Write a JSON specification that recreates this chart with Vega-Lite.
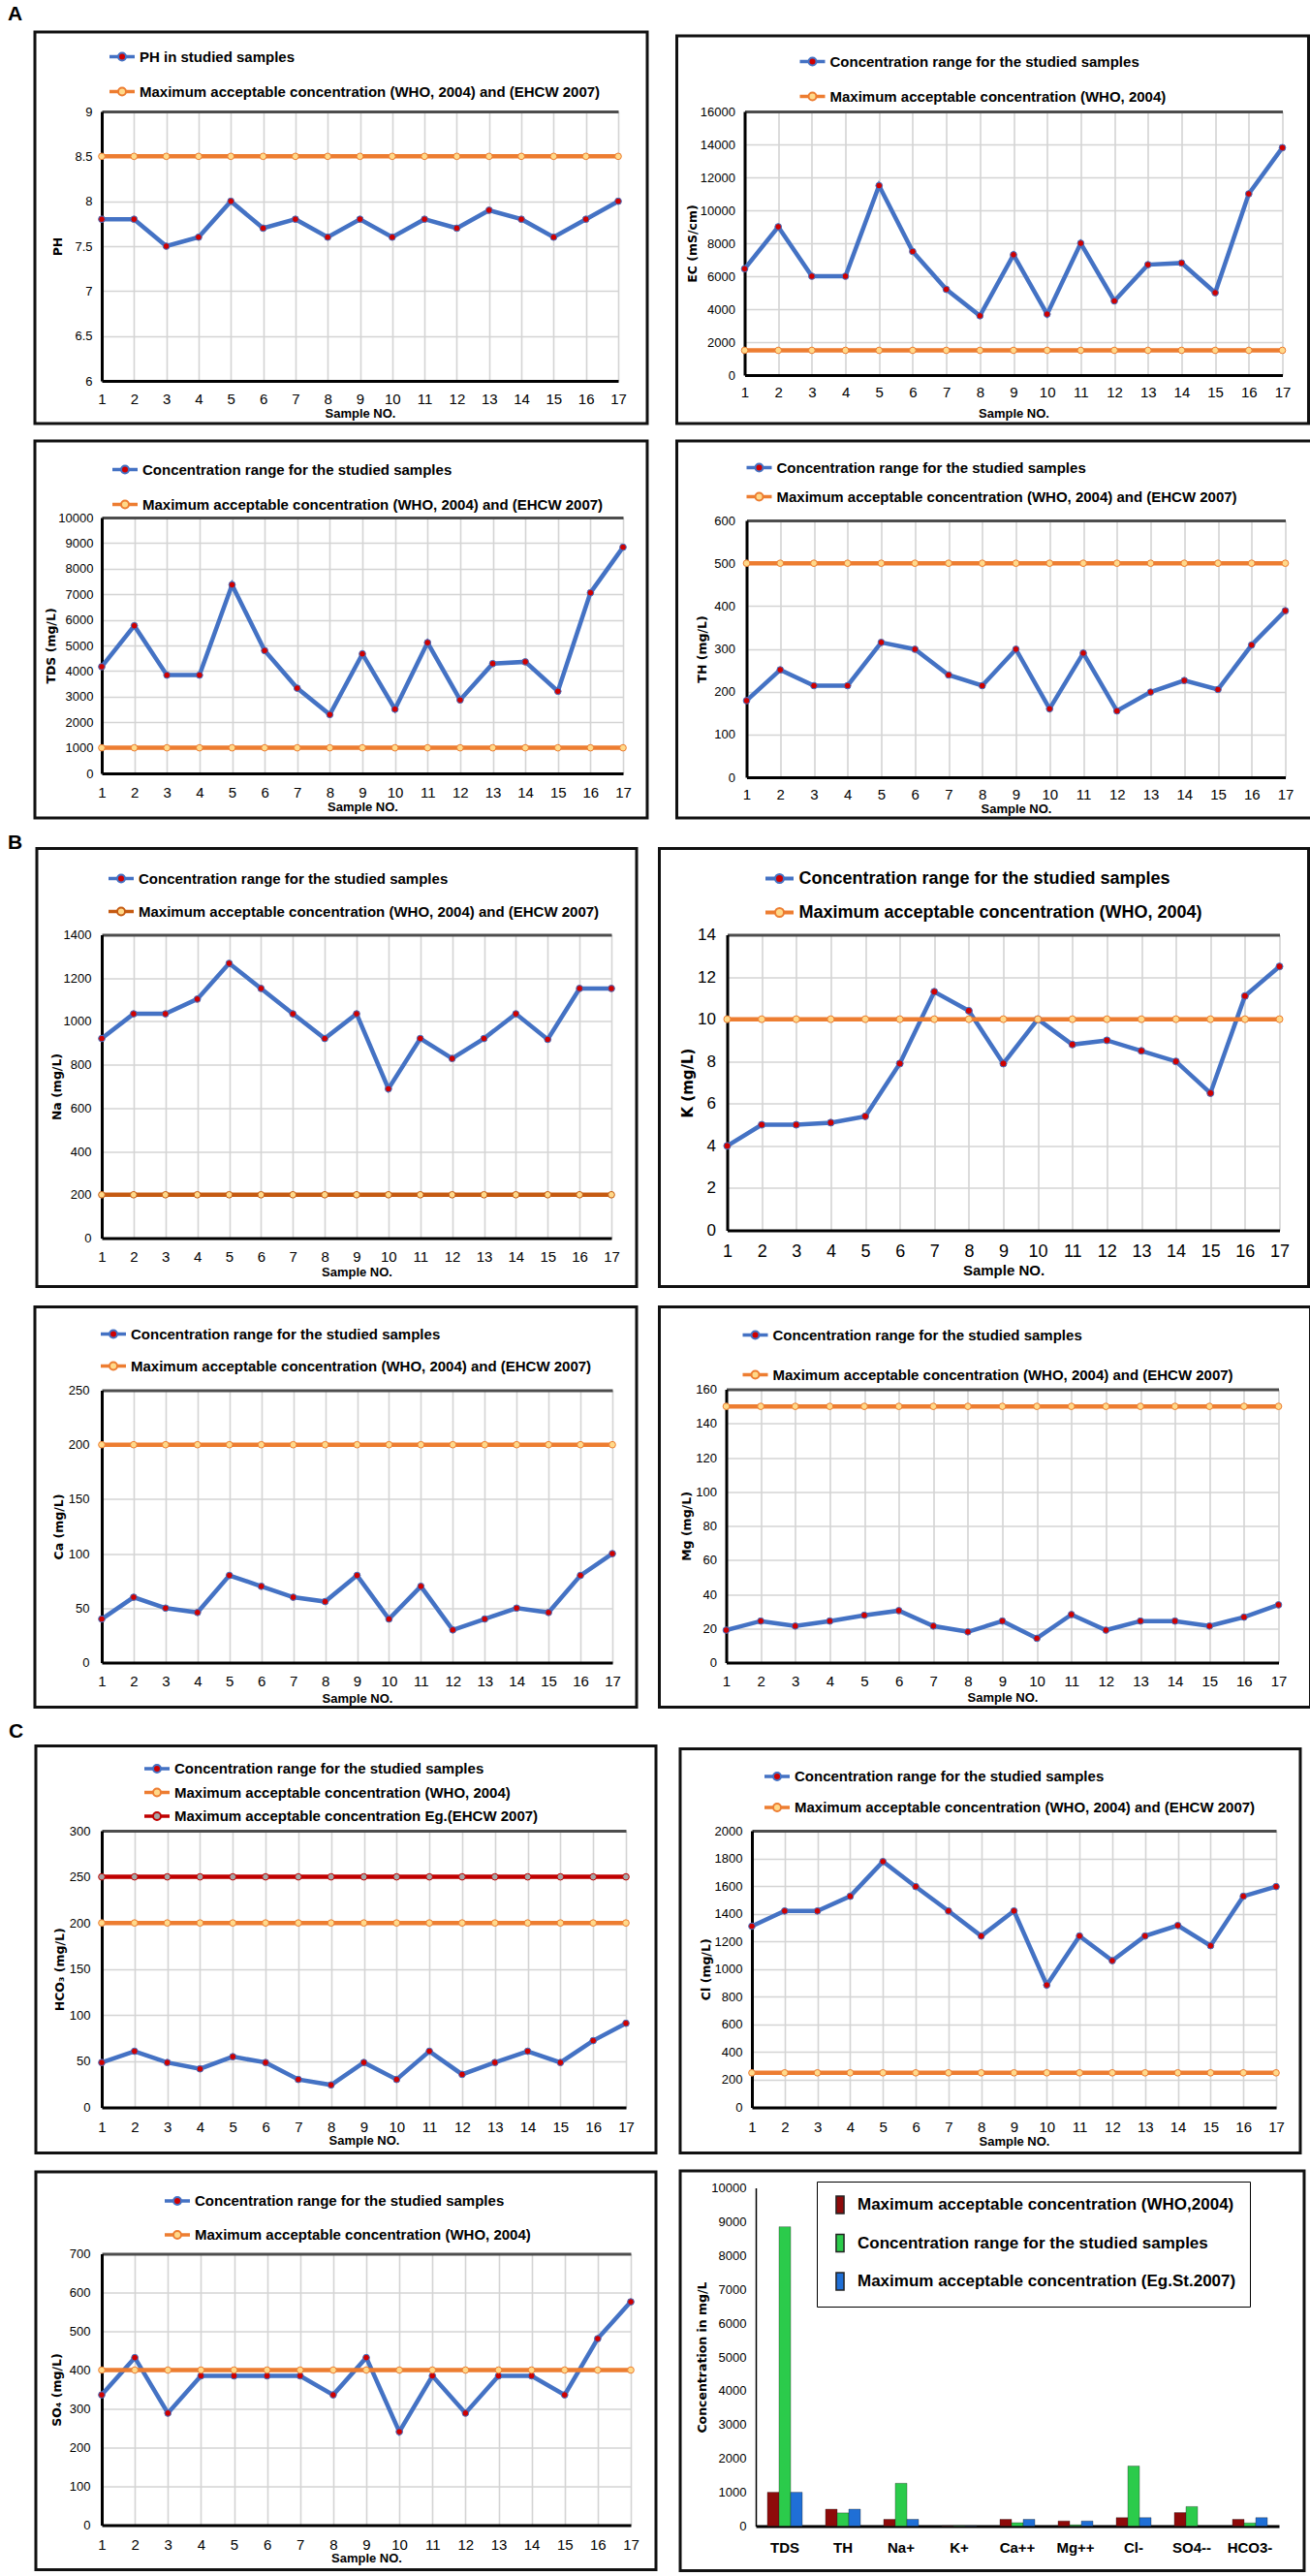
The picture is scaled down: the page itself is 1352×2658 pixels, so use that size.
{
"$schema": "https://vega.github.io/schema/vega-lite/v6.json",
"background": "white",
"padding": {"left": 7, "top": 4, "right": 0, "bottom": 0},
"config": {
  "view": {"stroke": null},
  "font": "Liberation Sans",
  "axis": {"grid": true, "ticks": false, "tickSize": 0, "labelOverlap": false, "labelFont": "Liberation Sans", "labelFontSize": 13, "labelColor": "#000", "titleFont": "DejaVu Sans", "titleFontSize": 12.5, "titleFontWeight": "bold", "titleColor": "#000", "gridColor": "#d4d4d4", "gridWidth": 1.6, "domainColor": "#000", "domainWidth": 3},
  "axisX": {"labelFontSize": 15, "titleFont": "Liberation Sans", "titleFontSize": 13, "labelAngle": 0, "labelFlush": false},
  "legend": {"labelFont": "Liberation Sans", "labelFontWeight": "bold", "labelFontSize": 15, "labelColor": "#000", "labelLimit": 1000, "symbolOpacity": 1, "padding": 0, "orient": "none"},
  "title": {"anchor": "start", "frame": "bounds", "font": "Liberation Sans", "fontSize": 21, "fontWeight": "bold", "color": "#000", "dx": -26.5}
},
"datasets": {
"ph": [{"s":1,"a":7.8,"b":8.5},{"s":2,"a":7.8,"b":8.5},{"s":3,"a":7.5,"b":8.5},{"s":4,"a":7.6,"b":8.5},{"s":5,"a":8.0,"b":8.5},{"s":6,"a":7.7,"b":8.5},{"s":7,"a":7.8,"b":8.5},{"s":8,"a":7.6,"b":8.5},{"s":9,"a":7.8,"b":8.5},{"s":10,"a":7.6,"b":8.5},{"s":11,"a":7.8,"b":8.5},{"s":12,"a":7.7,"b":8.5},{"s":13,"a":7.9,"b":8.5},{"s":14,"a":7.8,"b":8.5},{"s":15,"a":7.6,"b":8.5},{"s":16,"a":7.8,"b":8.5},{"s":17,"a":8.0,"b":8.5}],
"ec": [{"s":1,"a":6450,"b":1500},{"s":2,"a":9000,"b":1500},{"s":3,"a":6000,"b":1500},{"s":4,"a":6000,"b":1500},{"s":5,"a":11500,"b":1500},{"s":6,"a":7500,"b":1500},{"s":7,"a":5200,"b":1500},{"s":8,"a":3600,"b":1500},{"s":9,"a":7300,"b":1500},{"s":10,"a":3700,"b":1500},{"s":11,"a":8000,"b":1500},{"s":12,"a":4500,"b":1500},{"s":13,"a":6700,"b":1500},{"s":14,"a":6800,"b":1500},{"s":15,"a":5000,"b":1500},{"s":16,"a":11000,"b":1500},{"s":17,"a":13800,"b":1500}],
"tds": [{"s":1,"a":4170,"b":1000},{"s":2,"a":5770,"b":1000},{"s":3,"a":3840,"b":1000},{"s":4,"a":3840,"b":1000},{"s":5,"a":7370,"b":1000},{"s":6,"a":4800,"b":1000},{"s":7,"a":3330,"b":1000},{"s":8,"a":2300,"b":1000},{"s":9,"a":4670,"b":1000},{"s":10,"a":2510,"b":1000},{"s":11,"a":5110,"b":1000},{"s":12,"a":2870,"b":1000},{"s":13,"a":4290,"b":1000},{"s":14,"a":4360,"b":1000},{"s":15,"a":3210,"b":1000},{"s":16,"a":7060,"b":1000},{"s":17,"a":8840,"b":1000}],
"th": [{"s":1,"a":179,"b":500},{"s":2,"a":251,"b":500},{"s":3,"a":214,"b":500},{"s":4,"a":214,"b":500},{"s":5,"a":315,"b":500},{"s":6,"a":299,"b":500},{"s":7,"a":239,"b":500},{"s":8,"a":214,"b":500},{"s":9,"a":299,"b":500},{"s":10,"a":160,"b":500},{"s":11,"a":290,"b":500},{"s":12,"a":155,"b":500},{"s":13,"a":199,"b":500},{"s":14,"a":226,"b":500},{"s":15,"a":205,"b":500},{"s":16,"a":309,"b":500},{"s":17,"a":389,"b":500}],
"na": [{"s":1,"a":921,"b":200},{"s":2,"a":1035,"b":200},{"s":3,"a":1035,"b":200},{"s":4,"a":1103,"b":200},{"s":5,"a":1268,"b":200},{"s":6,"a":1152,"b":200},{"s":7,"a":1035,"b":200},{"s":8,"a":921,"b":200},{"s":9,"a":1035,"b":200},{"s":10,"a":689,"b":200},{"s":11,"a":921,"b":200},{"s":12,"a":829,"b":200},{"s":13,"a":921,"b":200},{"s":14,"a":1035,"b":200},{"s":15,"a":917,"b":200},{"s":16,"a":1152,"b":200},{"s":17,"a":1152,"b":200}],
"k": [{"s":1,"a":4.0,"b":10},{"s":2,"a":5.0,"b":10},{"s":3,"a":5.0,"b":10},{"s":4,"a":5.1,"b":10},{"s":5,"a":5.4,"b":10},{"s":6,"a":7.9,"b":10},{"s":7,"a":11.3,"b":10},{"s":8,"a":10.4,"b":10},{"s":9,"a":7.9,"b":10},{"s":10,"a":10.0,"b":10},{"s":11,"a":8.8,"b":10},{"s":12,"a":9.0,"b":10},{"s":13,"a":8.5,"b":10},{"s":14,"a":8.0,"b":10},{"s":15,"a":6.5,"b":10},{"s":16,"a":11.1,"b":10},{"s":17,"a":12.5,"b":10}],
"ca": [{"s":1,"a":40,"b":200},{"s":2,"a":60,"b":200},{"s":3,"a":50,"b":200},{"s":4,"a":46,"b":200},{"s":5,"a":80,"b":200},{"s":6,"a":70,"b":200},{"s":7,"a":60,"b":200},{"s":8,"a":56,"b":200},{"s":9,"a":80,"b":200},{"s":10,"a":40,"b":200},{"s":11,"a":70,"b":200},{"s":12,"a":30,"b":200},{"s":13,"a":40,"b":200},{"s":14,"a":50,"b":200},{"s":15,"a":46,"b":200},{"s":16,"a":80,"b":200},{"s":17,"a":100,"b":200}],
"mg": [{"s":1,"a":19,"b":150},{"s":2,"a":24.3,"b":150},{"s":3,"a":21.4,"b":150},{"s":4,"a":24.3,"b":150},{"s":5,"a":27.7,"b":150},{"s":6,"a":30.4,"b":150},{"s":7,"a":21.4,"b":150},{"s":8,"a":18,"b":150},{"s":9,"a":24.3,"b":150},{"s":10,"a":14.2,"b":150},{"s":11,"a":28.1,"b":150},{"s":12,"a":19,"b":150},{"s":13,"a":24.3,"b":150},{"s":14,"a":24.3,"b":150},{"s":15,"a":21.4,"b":150},{"s":16,"a":26.6,"b":150},{"s":17,"a":33.8,"b":150}],
"hco3": [{"s":1,"a":48.7,"b":200,"c":250},{"s":2,"a":60.9,"b":200,"c":250},{"s":3,"a":48.7,"b":200,"c":250},{"s":4,"a":41.8,"b":200,"c":250},{"s":5,"a":55,"b":200,"c":250},{"s":6,"a":48.7,"b":200,"c":250},{"s":7,"a":30.3,"b":200,"c":250},{"s":8,"a":24.4,"b":200,"c":250},{"s":9,"a":48.7,"b":200,"c":250},{"s":10,"a":30.3,"b":200,"c":250},{"s":11,"a":60.9,"b":200,"c":250},{"s":12,"a":35.8,"b":200,"c":250},{"s":13,"a":48.7,"b":200,"c":250},{"s":14,"a":60.9,"b":200,"c":250},{"s":15,"a":48.7,"b":200,"c":250},{"s":16,"a":72.4,"b":200,"c":250},{"s":17,"a":91.2,"b":200,"c":250}],
"cl": [{"s":1,"a":1310,"b":250},{"s":2,"a":1420,"b":250},{"s":3,"a":1420,"b":250},{"s":4,"a":1526,"b":250},{"s":5,"a":1777,"b":250},{"s":6,"a":1596,"b":250},{"s":7,"a":1420,"b":250},{"s":8,"a":1239,"b":250},{"s":9,"a":1420,"b":250},{"s":10,"a":885,"b":250},{"s":11,"a":1239,"b":250},{"s":12,"a":1061,"b":250},{"s":13,"a":1239,"b":250},{"s":14,"a":1315,"b":250},{"s":15,"a":1169,"b":250},{"s":16,"a":1526,"b":250},{"s":17,"a":1596,"b":250}],
"so4": [{"s":1,"a":336,"b":400},{"s":2,"a":432,"b":400},{"s":3,"a":289,"b":400},{"s":4,"a":385,"b":400},{"s":5,"a":385,"b":400},{"s":6,"a":385,"b":400},{"s":7,"a":385,"b":400},{"s":8,"a":336,"b":400},{"s":9,"a":432,"b":400},{"s":10,"a":241,"b":400},{"s":11,"a":385,"b":400},{"s":12,"a":289,"b":400},{"s":13,"a":385,"b":400},{"s":14,"a":385,"b":400},{"s":15,"a":336,"b":400},{"s":16,"a":481,"b":400},{"s":17,"a":576,"b":400}],
"bars": [{"p":"TDS","w":1000,"c":8850,"e":1000},{"p":"TH","w":500,"c":390,"e":500},{"p":"Na+","w":200,"c":1265,"e":200},{"p":"K+","w":10,"c":12.5,"e":10},{"p":"Ca++","w":200,"c":100,"e":200},{"p":"Mg++","w":150,"c":34,"e":150},{"p":"Cl-","w":250,"c":1775,"e":250},{"p":"SO4--","w":400,"c":576},{"p":"HCO3-","w":200,"c":92,"e":250}]
},
"spacing": 12.5,
"resolve": {"scale": {"color": "independent", "stroke": "independent", "fill": "independent"}, "legend": {"color": "independent", "stroke": "independent", "fill": "independent"}},
"vconcat": [
{"title": {"text": "A", "offset": 6}, "columns": 2, "align": "none", "spacing": {"row": 14, "column": 26.5},
 "resolve": {"scale": {"color": "independent", "stroke": "independent", "fill": "independent"}, "legend": {"color": "independent", "stroke": "independent", "fill": "independent"}},
 "concat": [
  {"width": 533, "height": 278, "layer": [
   {"data": {"values": [{}]}, "mark": {"type": "rect", "fill": "transparent", "stroke": "#111", "strokeWidth": 3},
    "encoding": {"x": {"datum": -1.071, "type": "quantitative", "scale": {"domain": [1,17], "nice": false, "zero": false}}, "x2": {"datum": 17.901},
     "y": {"datum": 9.885, "type": "quantitative", "scale": {"domain": [6,9], "nice": false, "zero": false}}, "y2": {"datum": 5.525}}},
   {"data": {"name": "ph"}, "transform": [{"fold": ["a","b"], "as": ["k","v"]}],
    "encoding": {
     "x": {"field": "s", "type": "quantitative", "scale": {"domain": [1,17], "nice": false, "zero": false}, "axis": {"title": "Sample NO.", "format": "d", "grid": true, "labelOverlap": false, "tickCount": 50, "values": [1,2,3,4,5,6,7,8,9,10,11,12,13,14,15,16,17], "labelPadding": 11, "titlePadding": 1}},
     "y": {"field": "v", "type": "quantitative", "scale": {"domain": [6,9], "nice": false, "zero": false}, "axis": {"title": "PH", "grid": true, "labelOverlap": false, "tickCount": 50, "values": [6,6.5,7,7.5,8,8.5,9], "format": "~g", "labelPadding": 10, "titlePadding": 10, "gridColor": {"condition": {"test": "datum.value === 9", "value": "#4d4d4d"}, "value": "#d4d4d4"}, "gridWidth": {"condition": {"test": "datum.value === 9", "value": 3}, "value": 1.6}}}},
    "layer": [
     {"mark": {"type": "line", "strokeWidth": 4.5}, "encoding": {"stroke": {"field": "k", "type": "nominal", "scale": {"domain": ["a","b"], "range": ["#4472C4","#ED7D31"]},
       "legend": {"title": null, "orient": "none", "legendX": 12, "legendY": -65.5, "rowPadding": 19, "symbolType": "M-1.5,-0.1H-0.5V0.1H-1.5ZM0.5,-0.1H1.5V0.1H0.5ZM-0.5,0A0.5,0.5,0,1,0,0.5,0A0.5,0.5,0,1,0,-0.5,0Z", "symbolSize": 256, "symbolStrokeWidth": 2, "labelOffset": 9,
        "labelExpr": "datum.label === 'a' ? 'PH in studied samples' : 'Maximum acceptable concentration (WHO, 2004) and (EHCW 2007)'",
        "encode": {"symbols": {"update": {"fill": {"signal": "datum.value === 'a' ? '#D00000' : '#FFD98A'"}, "opacity": {"value": 1}}}}}}}},
     {"mark": {"type": "point", "filled": true, "opacity": 1, "size": 45, "strokeWidth": 1}, "encoding": {"fill": {"field": "k", "type": "nominal", "scale": {"domain": ["a","b"], "range": ["#D00000","#FFD98A"]}, "legend": null}, "stroke": {"field": "k", "type": "nominal"}}}
    ]}
  ]},
  {"width": 555, "height": 272, "layer": [
   {"data": {"values": [{}]}, "mark": {"type": "rect", "fill": "transparent", "stroke": "#111", "strokeWidth": 3},
    "encoding": {"x": {"datum": -1.018, "type": "quantitative", "scale": {"domain": [1,17], "nice": false, "zero": false}}, "x2": {"datum": 17.778},
     "y": {"datum": 20588, "type": "quantitative", "scale": {"domain": [0,16000], "nice": false, "zero": false}}, "y2": {"datum": -2941}}},
   {"data": {"name": "ec"}, "transform": [{"fold": ["a","b"], "as": ["k","v"]}],
    "encoding": {
     "x": {"field": "s", "type": "quantitative", "scale": {"domain": [1,17], "nice": false, "zero": false}, "axis": {"title": "Sample NO.", "format": "d", "grid": true, "labelOverlap": false, "tickCount": 50, "values": [1,2,3,4,5,6,7,8,9,10,11,12,13,14,15,16,17], "labelPadding": 10, "titlePadding": 8}},
     "y": {"field": "v", "type": "quantitative", "scale": {"domain": [0,16000], "nice": false, "zero": false}, "axis": {"title": "EC (mS/cm)", "grid": true, "labelOverlap": false, "tickCount": 50, "values": [0,2000,4000,6000,8000,10000,12000,14000,16000], "format": "d", "labelPadding": 10, "titlePadding": 1, "gridColor": {"condition": {"test": "datum.value === 16000", "value": "#4d4d4d"}, "value": "#d4d4d4"}, "gridWidth": {"condition": {"test": "datum.value === 16000", "value": 3}, "value": 1.6}}}},
    "layer": [
     {"mark": {"type": "line", "strokeWidth": 4.5}, "encoding": {"stroke": {"field": "k", "type": "nominal", "scale": {"domain": ["a","b"], "range": ["#4472C4","#ED7D31"]},
       "legend": {"title": null, "orient": "none", "legendX": 61, "legendY": -60.5, "rowPadding": 19, "symbolType": "M-1.5,-0.1H-0.5V0.1H-1.5ZM0.5,-0.1H1.5V0.1H0.5ZM-0.5,0A0.5,0.5,0,1,0,0.5,0A0.5,0.5,0,1,0,-0.5,0Z", "symbolSize": 256, "symbolStrokeWidth": 2, "labelOffset": 9,
        "labelExpr": "datum.label === 'a' ? 'Concentration range for the studied samples' : 'Maximum acceptable concentration (WHO, 2004)'",
        "encode": {"symbols": {"update": {"fill": {"signal": "datum.value === 'a' ? '#D00000' : '#FFD98A'"}, "opacity": {"value": 1}}}}}}}},
     {"mark": {"type": "point", "filled": true, "opacity": 1, "size": 45, "strokeWidth": 1}, "encoding": {"fill": {"field": "k", "type": "nominal", "scale": {"domain": ["a","b"], "range": ["#D00000","#FFD98A"]}, "legend": null}, "stroke": {"field": "k", "type": "nominal"}}}
    ]}
  ]},
  {"width": 538, "height": 264, "layer": [
   {"data": {"values": [{}]}, "mark": {"type": "rect", "fill": "transparent", "stroke": "#111", "strokeWidth": 3},
    "encoding": {"x": {"datum": -1.052, "type": "quantitative", "scale": {"domain": [1,17], "nice": false, "zero": false}}, "x2": {"datum": 17.743},
     "y": {"datum": 12992, "type": "quantitative", "scale": {"domain": [0,10000], "nice": false, "zero": false}}, "y2": {"datum": -1742}}},
   {"data": {"name": "tds"}, "transform": [{"fold": ["a","b"], "as": ["k","v"]}],
    "encoding": {
     "x": {"field": "s", "type": "quantitative", "scale": {"domain": [1,17], "nice": false, "zero": false}, "axis": {"title": "Sample NO.", "format": "d", "grid": true, "labelOverlap": false, "tickCount": 50, "values": [1,2,3,4,5,6,7,8,9,10,11,12,13,14,15,16,17], "labelPadding": 12, "titlePadding": 1}},
     "y": {"field": "v", "type": "quantitative", "scale": {"domain": [0,10000], "nice": false, "zero": false}, "axis": {"title": "TDS (mg/L)", "grid": true, "labelOverlap": false, "tickCount": 50, "values": [0,1000,2000,3000,4000,5000,6000,7000,8000,9000,10000], "format": "d", "labelPadding": 9, "titlePadding": 0, "gridColor": {"condition": {"test": "datum.value === 10000", "value": "#4d4d4d"}, "value": "#d4d4d4"}, "gridWidth": {"condition": {"test": "datum.value === 10000", "value": 3}, "value": 1.6}}}},
    "layer": [
     {"mark": {"type": "line", "strokeWidth": 4.5}, "encoding": {"stroke": {"field": "k", "type": "nominal", "scale": {"domain": ["a","b"], "range": ["#4472C4","#ED7D31"]},
       "legend": {"title": null, "orient": "none", "legendX": 15, "legendY": -58.5, "rowPadding": 19, "symbolType": "M-1.5,-0.1H-0.5V0.1H-1.5ZM0.5,-0.1H1.5V0.1H0.5ZM-0.5,0A0.5,0.5,0,1,0,0.5,0A0.5,0.5,0,1,0,-0.5,0Z", "symbolSize": 256, "symbolStrokeWidth": 2, "labelOffset": 9,
        "labelExpr": "datum.label === 'a' ? 'Concentration range for the studied samples' : 'Maximum acceptable concentration (WHO, 2004) and (EHCW 2007)'",
        "encode": {"symbols": {"update": {"fill": {"signal": "datum.value === 'a' ? '#D00000' : '#FFD98A'"}, "opacity": {"value": 1}}}}}}}},
     {"mark": {"type": "point", "filled": true, "opacity": 1, "size": 45, "strokeWidth": 1}, "encoding": {"fill": {"field": "k", "type": "nominal", "scale": {"domain": ["a","b"], "range": ["#D00000","#FFD98A"]}, "legend": null}, "stroke": {"field": "k", "type": "nominal"}}}
    ]}
  ]},
  {"width": 556, "height": 265, "layer": [
   {"data": {"values": [{}]}, "mark": {"type": "rect", "fill": "transparent", "stroke": "#111", "strokeWidth": 3},
    "encoding": {"x": {"datum": -1.072, "type": "quantitative", "scale": {"domain": [1,17], "nice": false, "zero": false}}, "x2": {"datum": 17.806},
     "y": {"datum": 785.7, "type": "quantitative", "scale": {"domain": [0,600], "nice": false, "zero": false}}, "y2": {"datum": -95.1}}},
   {"data": {"name": "th"}, "transform": [{"fold": ["a","b"], "as": ["k","v"]}],
    "encoding": {
     "x": {"field": "s", "type": "quantitative", "scale": {"domain": [1,17], "nice": false, "zero": false}, "axis": {"title": "Sample NO.", "format": "d", "grid": true, "labelOverlap": false, "tickCount": 50, "values": [1,2,3,4,5,6,7,8,9,10,11,12,13,14,15,16,17], "labelPadding": 10, "titlePadding": 1}},
     "y": {"field": "v", "type": "quantitative", "scale": {"domain": [0,600], "nice": false, "zero": false}, "axis": {"title": "TH (mg/L)", "grid": true, "labelOverlap": false, "tickCount": 50, "values": [0,100,200,300,400,500,600], "format": "d", "labelPadding": 12, "titlePadding": 5, "gridColor": {"condition": {"test": "datum.value === 600", "value": "#4d4d4d"}, "value": "#d4d4d4"}, "gridWidth": {"condition": {"test": "datum.value === 600", "value": 3}, "value": 1.6}}}},
    "layer": [
     {"mark": {"type": "line", "strokeWidth": 4.5}, "encoding": {"stroke": {"field": "k", "type": "nominal", "scale": {"domain": ["a","b"], "range": ["#4472C4","#ED7D31"]},
       "legend": {"title": null, "orient": "none", "legendX": 4, "legendY": -63.5, "rowPadding": 13, "symbolType": "M-1.5,-0.1H-0.5V0.1H-1.5ZM0.5,-0.1H1.5V0.1H0.5ZM-0.5,0A0.5,0.5,0,1,0,0.5,0A0.5,0.5,0,1,0,-0.5,0Z", "symbolSize": 256, "symbolStrokeWidth": 2, "labelOffset": 9,
        "labelExpr": "datum.label === 'a' ? 'Concentration range for the studied samples' : 'Maximum acceptable concentration (WHO, 2004) and (EHCW 2007)'",
        "encode": {"symbols": {"update": {"fill": {"signal": "datum.value === 'a' ? '#D00000' : '#FFD98A'"}, "opacity": {"value": 1}}}}}}}},
     {"mark": {"type": "point", "filled": true, "opacity": 1, "size": 45, "strokeWidth": 1}, "encoding": {"fill": {"field": "k", "type": "nominal", "scale": {"domain": ["a","b"], "range": ["#D00000","#FFD98A"]}, "legend": null}, "stroke": {"field": "k", "type": "nominal"}}}
    ]}
  ]}
 ]},
{"title": {"text": "B", "offset": -6}, "columns": 2, "align": "none", "spacing": {"row": 17, "column": 19.5},
 "resolve": {"scale": {"color": "independent", "stroke": "independent", "fill": "independent"}, "legend": {"color": "independent", "stroke": "independent", "fill": "independent"}},
 "concat": [
  {"width": 526, "height": 313, "layer": [
   {"data": {"values": [{}]}, "mark": {"type": "rect", "fill": "transparent", "stroke": "#111", "strokeWidth": 3},
    "encoding": {"x": {"datum": -1.038, "type": "quantitative", "scale": {"domain": [1,17], "nice": false, "zero": false}}, "x2": {"datum": 17.791},
     "y": {"datum": 1798.1, "type": "quantitative", "scale": {"domain": [0,1400], "nice": false, "zero": false}}, "y2": {"datum": -223.6}}},
   {"data": {"name": "na"}, "transform": [{"fold": ["a","b"], "as": ["k","v"]}],
    "encoding": {
     "x": {"field": "s", "type": "quantitative", "scale": {"domain": [1,17], "nice": false, "zero": false}, "axis": {"title": "Sample NO.", "format": "d", "grid": true, "labelOverlap": false, "tickCount": 50, "values": [1,2,3,4,5,6,7,8,9,10,11,12,13,14,15,16,17], "labelPadding": 12, "titlePadding": 2}},
     "y": {"field": "v", "type": "quantitative", "scale": {"domain": [0,1400], "nice": false, "zero": false}, "axis": {"title": "Na (mg/L)", "grid": true, "labelOverlap": false, "tickCount": 50, "values": [0,200,400,600,800,1000,1200,1400], "format": "d", "labelPadding": 11, "titlePadding": 0, "gridColor": {"condition": {"test": "datum.value === 1400", "value": "#4d4d4d"}, "value": "#d4d4d4"}, "gridWidth": {"condition": {"test": "datum.value === 1400", "value": 3}, "value": 1.6}}}},
    "layer": [
     {"mark": {"type": "line", "strokeWidth": 4.5}, "encoding": {"stroke": {"field": "k", "type": "nominal", "scale": {"domain": ["a","b"], "range": ["#4472C4","#C55A11"]},
       "legend": {"title": null, "orient": "none", "legendX": 11, "legendY": -67, "rowPadding": 17, "symbolType": "M-1.5,-0.1H-0.5V0.1H-1.5ZM0.5,-0.1H1.5V0.1H0.5ZM-0.5,0A0.5,0.5,0,1,0,0.5,0A0.5,0.5,0,1,0,-0.5,0Z", "symbolSize": 256, "symbolStrokeWidth": 2, "labelOffset": 9,
        "labelExpr": "datum.label === 'a' ? 'Concentration range for the studied samples' : 'Maximum acceptable concentration (WHO, 2004) and (EHCW 2007)'",
        "encode": {"symbols": {"update": {"fill": {"signal": "datum.value === 'a' ? '#D00000' : '#FFD98A'"}, "opacity": {"value": 1}}}}}}}},
     {"mark": {"type": "point", "filled": true, "opacity": 1, "size": 45, "strokeWidth": 1}, "encoding": {"fill": {"field": "k", "type": "nominal", "scale": {"domain": ["a","b"], "range": ["#D00000","#FFD98A"]}, "legend": null}, "stroke": {"field": "k", "type": "nominal"}}}
    ]}
  ]},
  {"width": 570, "height": 305, "layer": [
   {"data": {"values": [{}]}, "mark": {"type": "rect", "fill": "transparent", "stroke": "#111", "strokeWidth": 3},
    "encoding": {"x": {"datum": -0.965, "type": "quantitative", "scale": {"domain": [1,17], "nice": false, "zero": false}}, "x2": {"datum": 17.842},
     "y": {"datum": 18.085, "type": "quantitative", "scale": {"domain": [0,14], "nice": false, "zero": false}}, "y2": {"datum": -2.662}}},
   {"data": {"name": "k"}, "transform": [{"fold": ["a","b"], "as": ["k","v"]}],
    "encoding": {
     "x": {"field": "s", "type": "quantitative", "scale": {"domain": [1,17], "nice": false, "zero": false}, "axis": {"title": "Sample NO.", "format": "d", "grid": true, "labelOverlap": false, "tickCount": 50, "values": [1,2,3,4,5,6,7,8,9,10,11,12,13,14,15,16,17], "labelFontSize": 18, "titleFontSize": 15, "labelPadding": 13, "titlePadding": 3}},
     "y": {"field": "v", "type": "quantitative", "scale": {"domain": [0,14], "nice": false, "zero": false}, "axis": {"title": "K (mg/L)", "grid": true, "labelOverlap": false, "tickCount": 50, "titleFontSize": 15, "labelFontSize": 17, "values": [0,2,4,6,8,10,12,14], "format": "d", "labelPadding": 12, "titlePadding": 2, "gridColor": {"condition": {"test": "datum.value === 14", "value": "#4d4d4d"}, "value": "#d4d4d4"}, "gridWidth": {"condition": {"test": "datum.value === 14", "value": 3}, "value": 1.6}}}},
    "layer": [
     {"mark": {"type": "line", "strokeWidth": 4.5}, "encoding": {"stroke": {"field": "k", "type": "nominal", "scale": {"domain": ["a","b"], "range": ["#4472C4","#ED7D31"]},
       "legend": {"title": null, "orient": "none", "legendX": 44, "legendY": -68, "rowPadding": 16, "labelFontSize": 18, "symbolType": "M-1.5,-0.1H-0.5V0.1H-1.5ZM0.5,-0.1H1.5V0.1H0.5ZM-0.5,0A0.5,0.5,0,1,0,0.5,0A0.5,0.5,0,1,0,-0.5,0Z", "symbolSize": 324, "symbolStrokeWidth": 2, "labelOffset": 10,
        "labelExpr": "datum.label === 'a' ? 'Concentration range for the studied samples' : 'Maximum acceptable concentration (WHO, 2004)'",
        "encode": {"symbols": {"update": {"fill": {"signal": "datum.value === 'a' ? '#D00000' : '#FFD98A'"}, "opacity": {"value": 1}}}}}}}},
     {"mark": {"type": "point", "filled": true, "opacity": 1, "size": 50, "strokeWidth": 1}, "encoding": {"fill": {"field": "k", "type": "nominal", "scale": {"domain": ["a","b"], "range": ["#D00000","#FFD98A"]}, "legend": null}, "stroke": {"field": "k", "type": "nominal"}}}
    ]}
  ]},
  {"width": 527, "height": 281, "layer": [
   {"data": {"values": [{}]}, "mark": {"type": "rect", "fill": "transparent", "stroke": "#111", "strokeWidth": 3},
    "encoding": {"x": {"datum": -1.095, "type": "quantitative", "scale": {"domain": [1,17], "nice": false, "zero": false}}, "x2": {"datum": 17.759},
     "y": {"datum": 326.5, "type": "quantitative", "scale": {"domain": [0,250], "nice": false, "zero": false}}, "y2": {"datum": -40.9}}},
   {"data": {"name": "ca"}, "transform": [{"fold": ["a","b"], "as": ["k","v"]}],
    "encoding": {
     "x": {"field": "s", "type": "quantitative", "scale": {"domain": [1,17], "nice": false, "zero": false}, "axis": {"title": "Sample NO.", "format": "d", "grid": true, "labelOverlap": false, "tickCount": 50, "values": [1,2,3,4,5,6,7,8,9,10,11,12,13,14,15,16,17], "labelPadding": 12, "titlePadding": 4}},
     "y": {"field": "v", "type": "quantitative", "scale": {"domain": [0,250], "nice": false, "zero": false}, "axis": {"title": "Ca (mg/L)", "grid": true, "labelOverlap": false, "tickCount": 50, "values": [0,50,100,150,200,250], "format": "d", "labelPadding": 13, "titlePadding": 3, "gridColor": {"condition": {"test": "datum.value === 250", "value": "#4d4d4d"}, "value": "#d4d4d4"}, "gridWidth": {"condition": {"test": "datum.value === 250", "value": 3}, "value": 1.6}}}},
    "layer": [
     {"mark": {"type": "line", "strokeWidth": 4.5}, "encoding": {"stroke": {"field": "k", "type": "nominal", "scale": {"domain": ["a","b"], "range": ["#4472C4","#ED7D31"]},
       "legend": {"title": null, "orient": "none", "legendX": 3, "legendY": -67, "rowPadding": 16, "symbolType": "M-1.5,-0.1H-0.5V0.1H-1.5ZM0.5,-0.1H1.5V0.1H0.5ZM-0.5,0A0.5,0.5,0,1,0,0.5,0A0.5,0.5,0,1,0,-0.5,0Z", "symbolSize": 256, "symbolStrokeWidth": 2, "labelOffset": 9,
        "labelExpr": "datum.label === 'a' ? 'Concentration range for the studied samples' : 'Maximum acceptable concentration (WHO, 2004) and (EHCW 2007)'",
        "encode": {"symbols": {"update": {"fill": {"signal": "datum.value === 'a' ? '#D00000' : '#FFD98A'"}, "opacity": {"value": 1}}}}}}}},
     {"mark": {"type": "point", "filled": true, "opacity": 1, "size": 45, "strokeWidth": 1}, "encoding": {"fill": {"field": "k", "type": "nominal", "scale": {"domain": ["a","b"], "range": ["#D00000","#FFD98A"]}, "legend": null}, "stroke": {"field": "k", "type": "nominal"}}}
    ]}
  ]},
  {"width": 570, "height": 282, "layer": [
   {"data": {"values": [{}]}, "mark": {"type": "rect", "fill": "transparent", "stroke": "#111", "strokeWidth": 3},
    "encoding": {"x": {"datum": -0.937, "type": "quantitative", "scale": {"domain": [1,17], "nice": false, "zero": false}}, "x2": {"datum": 17.926},
     "y": {"datum": 208.2, "type": "quantitative", "scale": {"domain": [0,160], "nice": false, "zero": false}}, "y2": {"datum": -26.1}}},
   {"data": {"name": "mg"}, "transform": [{"fold": ["a","b"], "as": ["k","v"]}],
    "encoding": {
     "x": {"field": "s", "type": "quantitative", "scale": {"domain": [1,17], "nice": false, "zero": false}, "axis": {"title": "Sample NO.", "format": "d", "grid": true, "labelOverlap": false, "tickCount": 50, "values": [1,2,3,4,5,6,7,8,9,10,11,12,13,14,15,16,17], "labelPadding": 12, "titlePadding": 3}},
     "y": {"field": "v", "type": "quantitative", "scale": {"domain": [0,160], "nice": false, "zero": false}, "axis": {"title": "Mg (mg/L)", "grid": true, "labelOverlap": false, "tickCount": 50, "values": [0,20,40,60,80,100,120,140,160], "format": "d", "labelPadding": 10, "titlePadding": 2, "gridColor": {"condition": {"test": "datum.value === 160", "value": "#4d4d4d"}, "value": "#d4d4d4"}, "gridWidth": {"condition": {"test": "datum.value === 160", "value": 3}, "value": 1.6}}}},
    "layer": [
     {"mark": {"type": "line", "strokeWidth": 4.5}, "encoding": {"stroke": {"field": "k", "type": "nominal", "scale": {"domain": ["a","b"], "range": ["#4472C4","#ED7D31"]},
       "legend": {"title": null, "orient": "none", "legendX": 21, "legendY": -65, "rowPadding": 24, "symbolType": "M-1.5,-0.1H-0.5V0.1H-1.5ZM0.5,-0.1H1.5V0.1H0.5ZM-0.5,0A0.5,0.5,0,1,0,0.5,0A0.5,0.5,0,1,0,-0.5,0Z", "symbolSize": 256, "symbolStrokeWidth": 2, "labelOffset": 9,
        "labelExpr": "datum.label === 'a' ? 'Concentration range for the studied samples' : 'Maximum acceptable concentration (WHO, 2004) and (EHCW 2007)'",
        "encode": {"symbols": {"update": {"fill": {"signal": "datum.value === 'a' ? '#D00000' : '#FFD98A'"}, "opacity": {"value": 1}}}}}}}},
     {"mark": {"type": "point", "filled": true, "opacity": 1, "size": 45, "strokeWidth": 1}, "encoding": {"fill": {"field": "k", "type": "nominal", "scale": {"domain": ["a","b"], "range": ["#D00000","#FFD98A"]}, "legend": null}, "stroke": {"field": "k", "type": "nominal"}}}
    ]}
  ]}
 ]},
{"title": {"text": "C", "offset": 3}, "columns": 2, "align": "none", "spacing": {"row": 14.5, "column": 21},
 "resolve": {"scale": {"color": "independent", "stroke": "independent", "fill": "independent"}, "legend": {"color": "independent", "stroke": "independent", "fill": "independent"}},
 "concat": [
  {"width": 541, "height": 285.5, "layer": [
   {"data": {"values": [{}]}, "mark": {"type": "rect", "fill": "transparent", "stroke": "#111", "strokeWidth": 3},
    "encoding": {"x": {"datum": -1.011, "type": "quantitative", "scale": {"domain": [1,17], "nice": false, "zero": false}}, "x2": {"datum": 17.917},
     "y": {"datum": 391.9, "type": "quantitative", "scale": {"domain": [0,300], "nice": false, "zero": false}}, "y2": {"datum": -49.4}}},
   {"data": {"name": "hco3"}, "transform": [{"fold": ["a","b","c"], "as": ["k","v"]}],
    "encoding": {
     "x": {"field": "s", "type": "quantitative", "scale": {"domain": [1,17], "nice": false, "zero": false}, "axis": {"title": "Sample NO.", "format": "d", "grid": true, "labelOverlap": false, "tickCount": 50, "values": [1,2,3,4,5,6,7,8,9,10,11,12,13,14,15,16,17], "labelPadding": 13, "titlePadding": 0}},
     "y": {"field": "v", "type": "quantitative", "scale": {"domain": [0,300], "nice": false, "zero": false}, "axis": {"title": "HCO₃ (mg/L)", "grid": true, "labelOverlap": false, "tickCount": 50, "values": [0,50,100,150,200,250,300], "format": "d", "labelPadding": 12, "titlePadding": 3, "gridColor": {"condition": {"test": "datum.value === 300", "value": "#4d4d4d"}, "value": "#d4d4d4"}, "gridWidth": {"condition": {"test": "datum.value === 300", "value": 3}, "value": 1.6}}}},
    "layer": [
     {"mark": {"type": "line", "strokeWidth": 4.5}, "encoding": {"stroke": {"field": "k", "type": "nominal", "scale": {"domain": ["a","b","c"], "range": ["#4472C4","#ED7D31","#C00000"]},
       "legend": {"title": null, "orient": "none", "legendX": 48, "legendY": -73, "rowPadding": 7.5, "symbolType": "M-1.5,-0.1H-0.5V0.1H-1.5ZM0.5,-0.1H1.5V0.1H0.5ZM-0.5,0A0.5,0.5,0,1,0,0.5,0A0.5,0.5,0,1,0,-0.5,0Z", "symbolSize": 256, "symbolStrokeWidth": 2, "labelOffset": 9,
        "labelExpr": "datum.label === 'a' ? 'Concentration range for the studied samples' : datum.label === 'b' ? 'Maximum acceptable concentration (WHO, 2004)' : ' Maximum acceptable concentration Eg.(EHCW 2007)'",
        "encode": {"symbols": {"update": {"fill": {"signal": "datum.value === 'a' ? '#D00000' : datum.value === 'b' ? '#FFD98A' : '#A5A5A5'"}, "opacity": {"value": 1}}}}}}}},
     {"mark": {"type": "point", "filled": true, "opacity": 1, "size": 45, "strokeWidth": 1}, "encoding": {"fill": {"field": "k", "type": "nominal", "scale": {"domain": ["a","b","c"], "range": ["#D00000","#FFD98A","#A5A5A5"]}, "legend": null}, "stroke": {"field": "k", "type": "nominal"}}}
    ]}
  ]},
  {"width": 541, "height": 285.5, "layer": [
   {"data": {"values": [{}]}, "mark": {"type": "rect", "fill": "transparent", "stroke": "#111", "strokeWidth": 3},
    "encoding": {"x": {"datum": -1.189, "type": "quantitative", "scale": {"domain": [1,17], "nice": false, "zero": false}}, "x2": {"datum": 17.739},
     "y": {"datum": 2591.9, "type": "quantitative", "scale": {"domain": [0,2000], "nice": false, "zero": false}}, "y2": {"datum": -329.2}}},
   {"data": {"name": "cl"}, "transform": [{"fold": ["a","b"], "as": ["k","v"]}],
    "encoding": {
     "x": {"field": "s", "type": "quantitative", "scale": {"domain": [1,17], "nice": false, "zero": false}, "axis": {"title": "Sample NO.", "format": "d", "grid": true, "labelOverlap": false, "tickCount": 50, "values": [1,2,3,4,5,6,7,8,9,10,11,12,13,14,15,16,17], "labelPadding": 13, "titlePadding": 1}},
     "y": {"field": "v", "type": "quantitative", "scale": {"domain": [0,2000], "nice": false, "zero": false}, "axis": {"title": "Cl (mg/L)", "grid": true, "labelOverlap": false, "tickCount": 50, "values": [0,200,400,600,800,1000,1200,1400,1600,1800,2000], "format": "d", "labelPadding": 10, "titlePadding": 2, "gridColor": {"condition": {"test": "datum.value === 2000", "value": "#4d4d4d"}, "value": "#d4d4d4"}, "gridWidth": {"condition": {"test": "datum.value === 2000", "value": 3}, "value": 1.6}}}},
    "layer": [
     {"mark": {"type": "line", "strokeWidth": 4.5}, "encoding": {"stroke": {"field": "k", "type": "nominal", "scale": {"domain": ["a","b"], "range": ["#4472C4","#ED7D31"]},
       "legend": {"title": null, "orient": "none", "legendX": 17, "legendY": -65, "rowPadding": 15, "symbolType": "M-1.5,-0.1H-0.5V0.1H-1.5ZM0.5,-0.1H1.5V0.1H0.5ZM-0.5,0A0.5,0.5,0,1,0,0.5,0A0.5,0.5,0,1,0,-0.5,0Z", "symbolSize": 256, "symbolStrokeWidth": 2, "labelOffset": 9,
        "labelExpr": "datum.label === 'a' ? 'Concentration range for the studied samples' : 'Maximum acceptable concentration (WHO, 2004) and (EHCW 2007)'",
        "encode": {"symbols": {"update": {"fill": {"signal": "datum.value === 'a' ? '#D00000' : '#FFD98A'"}, "opacity": {"value": 1}}}}}}}},
     {"mark": {"type": "point", "filled": true, "opacity": 1, "size": 45, "strokeWidth": 1}, "encoding": {"fill": {"field": "k", "type": "nominal", "scale": {"domain": ["a","b"], "range": ["#D00000","#FFD98A"]}, "legend": null}, "stroke": {"field": "k", "type": "nominal"}}}
    ]}
  ]},
  {"width": 546, "height": 280, "layer": [
   {"data": {"values": [{}]}, "mark": {"type": "rect", "fill": "transparent", "stroke": "#111", "strokeWidth": 3},
    "encoding": {"x": {"datum": -0.993, "type": "quantitative", "scale": {"domain": [1,17], "nice": false, "zero": false}}, "x2": {"datum": 17.762},
     "y": {"datum": 911.25, "type": "quantitative", "scale": {"domain": [0,700], "nice": false, "zero": false}}, "y2": {"datum": -115}}},
   {"data": {"name": "so4"}, "transform": [{"fold": ["a","b"], "as": ["k","v"]}],
    "encoding": {
     "x": {"field": "s", "type": "quantitative", "scale": {"domain": [1,17], "nice": false, "zero": false}, "axis": {"title": "Sample NO.", "format": "d", "grid": true, "labelOverlap": false, "tickCount": 50, "values": [1,2,3,4,5,6,7,8,9,10,11,12,13,14,15,16,17], "labelPadding": 13, "titlePadding": 0}},
     "y": {"field": "v", "type": "quantitative", "scale": {"domain": [0,700], "nice": false, "zero": false}, "axis": {"title": "SO₄ (mg/L)", "grid": true, "labelOverlap": false, "tickCount": 50, "values": [0,100,200,300,400,500,600,700], "format": "d", "labelPadding": 12, "titlePadding": 6, "gridColor": {"condition": {"test": "datum.value === 700", "value": "#4d4d4d"}, "value": "#d4d4d4"}, "gridWidth": {"condition": {"test": "datum.value === 700", "value": 3}, "value": 1.6}}}},
    "layer": [
     {"mark": {"type": "line", "strokeWidth": 4.5}, "encoding": {"stroke": {"field": "k", "type": "nominal", "scale": {"domain": ["a","b"], "range": ["#4472C4","#ED7D31"]},
       "legend": {"title": null, "orient": "none", "legendX": 69, "legendY": -63.5, "rowPadding": 18, "symbolType": "M-1.5,-0.1H-0.5V0.1H-1.5ZM0.5,-0.1H1.5V0.1H0.5ZM-0.5,0A0.5,0.5,0,1,0,0.5,0A0.5,0.5,0,1,0,-0.5,0Z", "symbolSize": 256, "symbolStrokeWidth": 2, "labelOffset": 9,
        "labelExpr": "datum.label === 'a' ? 'Concentration range for the studied samples' : 'Maximum acceptable concentration (WHO, 2004)'",
        "encode": {"symbols": {"update": {"fill": {"signal": "datum.value === 'a' ? '#D00000' : '#FFD98A'"}, "opacity": {"value": 1}}}}}}}},
     {"mark": {"type": "point", "filled": true, "opacity": 1, "size": 45, "strokeWidth": 1}, "encoding": {"fill": {"field": "k", "type": "nominal", "scale": {"domain": ["a","b"], "range": ["#D00000","#FFD98A"]}, "legend": null}, "stroke": {"field": "k", "type": "nominal"}}}
    ]}
  ]},
  {"width": 540, "height": 349, "resolve": {"scale": {"x": "independent"}, "axis": {"x": "independent"}}, "layer": [
   {"data": {"values": [{}]}, "mark": {"type": "rect", "fill": "transparent", "stroke": "#111", "strokeWidth": 3},
    "encoding": {"x": {"datum": -0.1444, "type": "quantitative", "scale": {"domain": [0,1], "nice": false, "zero": false}, "axis": null}, "x2": {"datum": 1.0481},
     "y": {"datum": 10501, "type": "quantitative", "scale": {"domain": [0,10000], "nice": false, "zero": false}}, "y2": {"datum": -1318}}},
   {"data": {"name": "bars"}, "transform": [{"fold": ["w","c","e"], "as": ["k","v"]}],
    "mark": {"type": "bar", "stroke": "#222", "strokeWidth": 0.6, "strokeOpacity": 0.6},
    "encoding": {
     "x": {"field": "p", "type": "nominal", "sort": ["TDS","TH","Na+","K+","Ca++","Mg++","Cl-","SO4--","HCO3-"], "scale": {"paddingInner": 0.4, "paddingOuter": 0.2}, "axis": {"title": null, "labelAngle": 0, "labelFontWeight": "bold", "labelFontSize": 15, "labelPadding": 15, "grid": false, "labelOverlap": false}},
     "xOffset": {"field": "k", "type": "nominal", "sort": ["w","c","e"], "scale": {"domain": ["w","c","e"]}},
     "y": {"field": "v", "type": "quantitative", "scale": {"domain": [0,10000], "nice": false, "zero": false}, "axis": {"title": "Concentration in mg/L", "labelOverlap": false, "tickCount": 50, "values": [0,1000,2000,3000,4000,5000,6000,7000,8000,9000,10000], "format": "d", "grid": false, "domainWidth": 1.5, "labelPadding": 10, "titlePadding": 2}},
     "color": {"field": "k", "type": "nominal", "scale": {"domain": ["w","c","e"], "range": ["#8E0A0A","#2BCB4B","#1F6FD6"]},
      "legend": {"title": null, "orient": "none", "legendX": 63, "legendY": -6.5, "padding": 14, "strokeColor": "#000", "rowPadding": 15.5, "labelFontSize": 17, "symbolType": "M-0.45,-1H0.45V1H-0.45Z", "symbolSize": 324, "labelOffset": 8,
       "encode": {"legend": {"update": {"strokeWidth": {"value": 2.5}}}},
       "labelExpr": "datum.label === 'w' ? 'Maximum acceptable concentration (WHO,2004)' : datum.label === 'c' ? 'Concentration range for the studied samples' : 'Maximum acceptable concentration (Eg.St.2007)'"}}}}
  ]}
 ]}
]
}
